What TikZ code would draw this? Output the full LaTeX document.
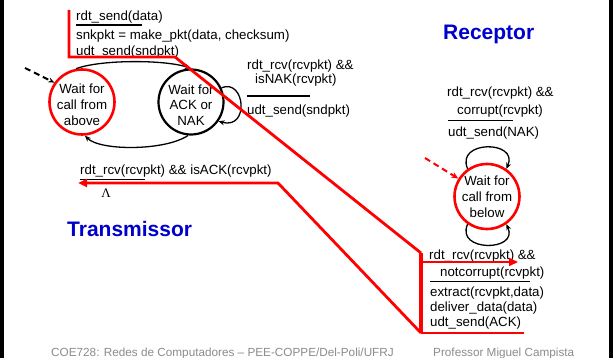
\documentclass[tikz,border=0pt]{standalone}
\usepackage{fontspec}
\setmainfont{Liberation Sans}
\newfontfamily\lserif{Liberation Serif}
\usetikzlibrary{arrows.meta}
\definecolor{redline}{RGB}{255,0,0}
\definecolor{titleblue}{RGB}{0,0,204}
\definecolor{footgray}{RGB}{140,140,140}
\begin{document}
\begin{tikzpicture}[x=1pt,y=-1pt,
  lbl/.style={anchor=base west, inner sep=0pt, font=\fontsize{13.3}{16}\selectfont},
  statetext/.style={align=center, inner sep=0pt, font=\fontsize{13.3}{15.8}\selectfont},
  stateR/.style={circle, draw=redline, line width=2.6pt, minimum size=65pt, inner sep=0pt},
  stateB/.style={circle, draw=black, line width=2.2pt, minimum size=65pt, inner sep=0pt},
  hl/.style={draw=redline, line width=2.8pt},
  hlthick/.style={draw=redline, line width=4.5pt},
  hlarrow/.style={draw=redline, line width=2.8pt, -{Triangle[length=9pt,width=8pt]}},
  bar/.style={draw=black, line width=1.4pt},
  trans/.style={draw=black, line width=1.3pt, -{Stealth[length=6pt,width=5pt]}},
  titletext/.style={anchor=base west, inner sep=0pt, text=titleblue, font=\fontsize{21}{25}\selectfont\bfseries},
  foot/.style={anchor=base west, inner sep=0pt, text=footgray, font=\fontsize{11.75}{14}\selectfont}
]
\useasboundingbox (0,0) rectangle (613,358);
\fill[white] (0,0) rectangle (613,358);
\fill[black] (0,0) rectangle (3.5,358);
\fill[black] (609,0) rectangle (613,358);

% states
\node[stateR] (s1) at (82,102) {};
\node[statetext] (s1t) at (82,105) {Wait for\\call from\\above};
\node[stateB] (s2) at (191,102) {};
\node[statetext] (s2t) at (191,105) {Wait for\\ACK or\\NAK};
\node[stateR] (s3) at (487,196.5) {};
\node[statetext] (s3t) at (487,196.5) {Wait for\\call from\\below};

% transitions
\coordinate (init1) at (25,68);
\draw[trans, line width=2pt, dash pattern=on 6pt off 4pt] (init1) -- (s1.145);
\draw[trans] (s1.100) .. controls (100,59.5) and (165,59.5) .. (s2.90);
\draw[trans] (s2.265) .. controls (165,151) and (100,151) .. (s1.275);
\draw[trans] (s2.25) .. controls (245,78) and (250,130) .. (s2.-35);
\draw[trans] (s3.125) .. controls (455,140) and (519,140) .. (s3.55);
\draw[trans] (s3.235) .. controls (455,252) and (519,252) .. (s3.-55);
\coordinate (init3) at (425,158);
\draw[draw=redline, line width=2pt, dash pattern=on 6pt off 4pt, -{Stealth[length=7pt,width=6pt]}] (init3) -- (s3.148);

% labels
\node[lbl] (l1) at (76,21) {rdt\_send(data)};
\draw[bar] (76,25) -- (142,25);
\node[lbl] (l2) at (76,39.5) {snkpkt = make\_pkt(data, checksum)};
\node[lbl] (l3) at (76,56) {udt\_send(sndpkt)};

\node[lbl] (n1) at (247,69.5) {rdt\_rcv(rcvpkt) \&\&};
\node[lbl] (n2) at (255,83.5) {isNAK(rcvpkt)};
\draw[bar] (247,96) -- (310,96);
\node[lbl] (n3) at (247,114.5) {udt\_send(sndpkt)};

\node[lbl] (c1) at (447,97) {rdt\_rcv(rcvpkt) \&\&};
\node[lbl] (c2) at (457,114.5) {corrupt(rcvpkt)};
\draw[bar] (448,120.7) -- (513,120.7);
\node[lbl] (c3) at (448,137) {udt\_send(NAK)};

\node[lbl] (a1) at (80,174.5) {rdt\_rcv(rcvpkt) \&\& isACK(rcvpkt)};
\draw[bar] (80,179.3) -- (145,179.3);
\node[inner sep=0pt, font=\fontsize{13}{15}\lserif] (lam) at (106,193) {Λ};

\node[titletext] (tx) at (67,236.5) {Transmissor};
\node[titletext] (rx) at (443,40) {Receptor};

\node[lbl] (r1) at (429,259.5) {rdt\_rcv(rcvpkt) \&\&};
\node[lbl] (r2) at (440,276) {notcorrupt(rcvpkt)};
\draw[bar] (430,281.7) -- (530,281.7);
\node[lbl] (r3) at (430,296) {extract(rcvpkt,data)};
\node[lbl] (r4) at (430,311) {deliver\_data(data)};
\node[lbl] (r5) at (430,326) {udt\_send(ACK)};

% red highlights
\coordinate (h0) at (69,10);
\coordinate (h1) at (69,57);
\coordinate (h2) at (175,57);
\coordinate (h3) at (421,253);
\coordinate (h4) at (421,333);
\coordinate (h5) at (524,333);
\coordinate (h6) at (278,183);
\coordinate (h7) at (78,183);
\coordinate (h8) at (421,262);
\coordinate (h9) at (518,262);
\draw[hl, line join=miter] (h0) -- (h1) -- (h2) -- (h3);
\draw[hlthick] (h3) -- (h4);
\draw[hl] (h4) -- (h5);
\draw[hlarrow] (h4) -- (h6) -- (h7);
\draw[hlarrow] (h8) -- (h9);

% footer
\node[foot] (f1) at (51,356) {COE728: Redes de Computadores – PEE-COPPE/Del-Poli/UFRJ};
\node[foot] (f2) at (433,356) {Professor Miguel Campista};
\end{tikzpicture}
\end{document}
